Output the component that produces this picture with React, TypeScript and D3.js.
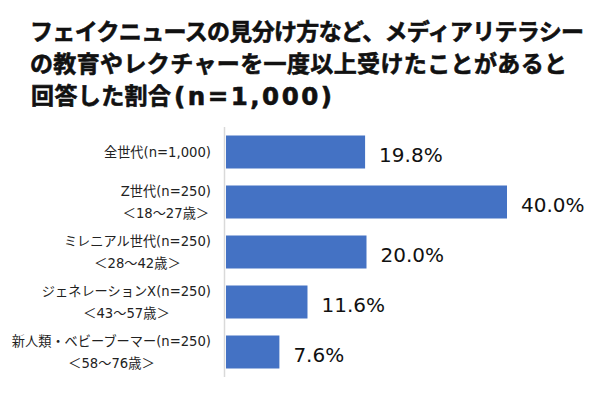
import React, { useRef, useEffect } from 'react';
import * as d3 from 'd3';

// chart data
const groups = [
  '全世代(n=1,000)',
  'Z世代(n=250)',
  'ミレニアル世代(n=250)',
  'ジェネレーションX(n=250)',
  '新人類・ベビーブーマー(n=250)',
];
const ageRanges = ['', '＜18～27歳＞', '＜28～42歳＞', '＜43～57歳＞', '＜58～76歳＞'];
const rates = [19.8, 40.0, 20.0, 11.6, 7.6];

const titleLines = [
  'フェイクニュースの見分け方など、メディアリテラシー',
  'の教育やレクチャーを一度以上受けたことがあると',
];
const titleLast = '回答した割合';
const titleN = '(n=1,000)';

const FONT = '"DejaVu Sans", "Noto Sans CJK JP", sans-serif';

export default function App() {
  const svgRef = useRef<SVGSVGElement>(null);

  useEffect(() => {
    const svg = d3.select(svgRef.current);
    svg.selectAll('*').remove();

    const x = d3.scaleLinear().domain([0, 40]).range([226, 507]);
    const y = d3.scaleBand<string>()
      .domain(groups)
      .range([127, 377])
      .paddingInner(0.34)
      .paddingOuter(0.17);

    // title (fit widths to the original)
    const titleText = (xx: number, yy: number, len: number, size = 23) =>
      svg.append('text')
        .attr('font-family', FONT)
        .attr('font-weight', 'bold')
        .attr('font-size', size)
        .attr('fill', '#111')
        .attr('stroke', '#111')
        .attr('stroke-width', 0.6)
        .attr('x', xx)
        .attr('y', yy)
        .attr('textLength', len)
        .attr('lengthAdjust', 'spacing');
    titleText(30, 40, 554).text(titleLines[0]);
    titleText(30, 72, 537).text(titleLines[1]);
    titleText(31, 104, 140).text(titleLast);
    titleText(174, 105, 158, 24.5).text(titleN);

    // axis line
    svg.append('line')
      .attr('x1', 224.5).attr('x2', 224.5)
      .attr('y1', 127).attr('y2', 377)
      .attr('stroke', '#d9d9d9')
      .attr('stroke-width', 1.5);

    // bars
    svg.selectAll('.bar')
      .data(rates)
      .enter()
      .append('rect')
      .attr('class', 'bar')
      .attr('x', x(0))
      .attr('y', (d, i) => y(groups[i])!)
      .attr('width', d => x(d) - x(0))
      .attr('height', y.bandwidth())
      .attr('fill', '#4472C4');

    // value labels
    svg.selectAll('.val')
      .data(rates)
      .enter()
      .append('text')
      .attr('class', 'val')
      .attr('font-family', FONT)
      .attr('font-size', 20)
      .attr('fill', '#111')
      .attr('x', d => x(d) + 14)
      .attr('y', (d, i) => y(groups[i])! + y.bandwidth() / 2 + 9.5)
      .text(d => d.toFixed(1) + '%');

    // category labels, second line centred under first
    groups.forEach((g, i) => {
      const mid = y(g)! + y.bandwidth() / 2;
      const twoLines = ageRanges[i] !== '';
      const t1 = svg.append('text')
        .attr('font-family', FONT)
        .attr('font-size', 13.2)
        .attr('fill', '#222')
        .attr('text-anchor', 'end')
        .attr('x', 211)
        .attr('y', twoLines ? mid - 11 + 5 : mid + 5)
        .text(g);
      if (twoLines) {
        const w = (t1.node() as SVGTextElement).getComputedTextLength();
        svg.append('text')
          .attr('font-family', FONT)
          .attr('font-size', 13.2)
          .attr('fill', '#222')
          .attr('text-anchor', 'middle')
          .attr('x', 211 - w / 2)
          .attr('y', mid + 11 + 5)
          .text(ageRanges[i]);
      }
    });
  }, []);

  return (
    <svg
      ref={svgRef}
      width={610}
      height={395}
      style={{ position: 'absolute', left: 0, top: 0, background: '#fff' }}
    />
  );
}
